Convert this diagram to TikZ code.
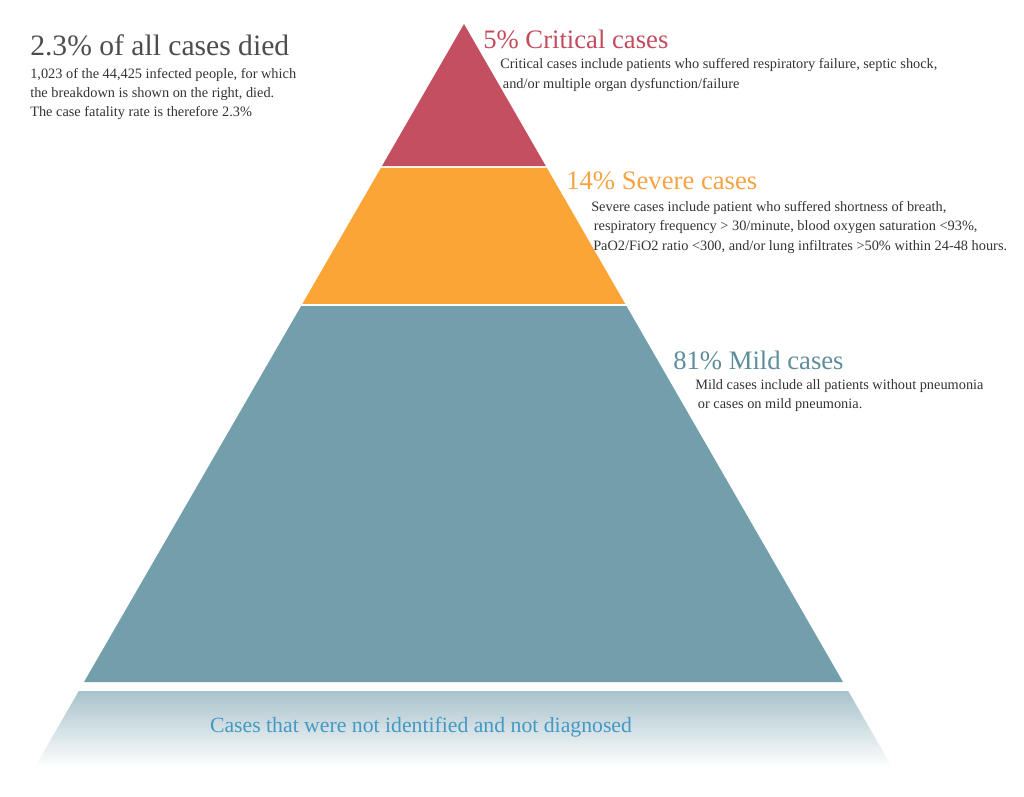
\documentclass[tikz,border=0pt]{standalone}
\usepackage{fontspec}
\setmainfont{Liberation Serif}
\usetikzlibrary{positioning,calc}
\definecolor{critfill}{HTML}{C44F60}
\definecolor{sevfill}{HTML}{FBA537}
\definecolor{mildfill}{HTML}{739FAC}
\definecolor{bandtop}{HTML}{A8C2CB}
\definecolor{critc}{HTML}{C24B5E}
\definecolor{sevc}{HTML}{F5A343}
\definecolor{mildc}{HTML}{5F8D9B}
\definecolor{undiagc}{HTML}{4499C4}
\definecolor{titlec}{HTML}{4D4D4D}
\definecolor{txt}{HTML}{333333}
\tikzset{
  head/.style={anchor=base west,inner sep=0pt,font=\fontsize{20}{24}\selectfont},
  desc/.style={align=left,inner sep=0pt,text=txt,font=\fontsize{10.75}{14.5}\selectfont},
}
\begin{document}
\begin{tikzpicture}[x=0.75pt,y=-0.75pt]
\useasboundingbox (0,0) rectangle (1024,796);
\coordinate (apex) at (464,24);
\coordinate (bl) at (84,682);
\coordinate (br) at (843,682);
% pyramid layers
\fill[critfill] (apex) -- ($(apex)!0.2158!(br)$) -- ($(apex)!0.2158!(bl)$) -- cycle;
\fill[sevfill] ($(apex)!0.2188!(bl)$) -- ($(apex)!0.2188!(br)$) -- ($(apex)!0.4255!(br)$) -- ($(apex)!0.4255!(bl)$) -- cycle;
\fill[mildfill] ($(apex)!0.4286!(bl)$) -- ($(apex)!0.4286!(br)$) -- (br) -- (bl) -- cycle;
\shade[top color=bandtop,bottom color=white] ($(apex)!1.0137!(bl)$) -- ($(apex)!1.0137!(br)$) -- ($(apex)!1.13!(br)$) -- ($(apex)!1.13!(bl)$) -- cycle;
% texts
\node[head,font=\fontsize{22.2}{26}\selectfont,text=titlec] (died) at (30,55) {2.3\% of all cases died};
\node[desc,below right=9.5pt and 0pt of died.base west] (diedtxt) {1,023 of the 44,425 infected people, for which\\
  the breakdown is shown on the right, died.\\
  The case fatality rate is therefore 2.3\%};
\node[head,text=critc] (crit) at (483,48) {5\% Critical cases};
\node[desc,below right=7.3pt and 12.75pt of crit.base west,font=\fontsize{10.75}{15}\selectfont] (critdesc) {Critical cases include patients who suffered respiratory failure, septic shock,\\
  \hspace{2pt}and/or multiple organ dysfunction/failure};
\node[head,text=sevc] (sev) at (566,189) {14\% Severe cases};
\node[desc,below right=9pt and 18.75pt of sev.base west] (sevdesc) {Severe cases include patient who suffered shortness of breath,\\
  \hspace{2pt}respiratory frequency > 30/minute, blood oxygen saturation <93\%,\\
  \hspace{1.5pt}PaO2/FiO2 ratio <300, and/or lung infiltrates >50\% within 24-48 hours.};
\node[head,text=mildc] (mild) at (673,369) {81\% Mild cases};
\node[desc,below right=7.5pt and 16.5pt of mild.base west] (milddesc) {Mild cases include all patients without pneumonia\\
  \hspace{2pt}or cases on mild pneumonia.};
\node[anchor=base,inner sep=0pt,text=undiagc,font=\fontsize{16.3}{19}\selectfont] (undiag) at (421,732) {Cases that were not identified and not diagnosed};
\end{tikzpicture}
\end{document}
